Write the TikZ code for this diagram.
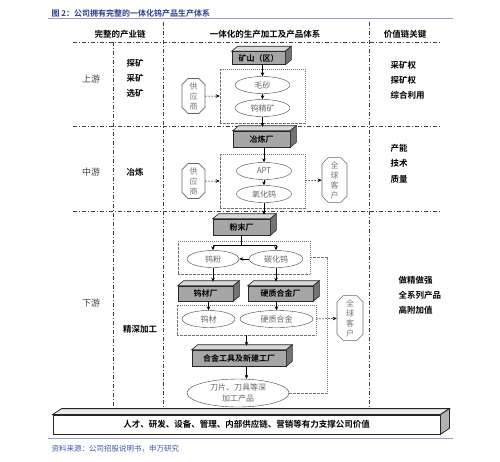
\documentclass[tikz,border=0pt]{standalone}
\usepackage{fontspec}
\setmainfont{Noto Sans CJK SC}[BoldFont={Noto Sans CJK SC Bold}]
\usetikzlibrary{arrows.meta,positioning,calc,shapes.geometric,shapes.misc}
\definecolor{titleblue}{HTML}{2A3F8F}
\definecolor{rulelav}{HTML}{9C9CC8}
\definecolor{srcblue}{HTML}{3557AE}

\begin{document}
\begin{tikzpicture}[x=1pt, y=-1pt,
    factory/.style={draw=black!85, fill=black!35, font=\fontsize{8}{9}\selectfont\bfseries, inner sep=0pt, line width=0.6pt},
    prod/.style={ellipse, draw=black!75, fill=white, text=black!60, font=\fontsize{8}{9}\selectfont, inner sep=0pt, minimum width=55pt, minimum height=17pt},
    partner/.style={chamfered rectangle, chamfered rectangle xsep=2.5pt, draw=black!60, text=black!55, font=\fontsize{8}{10}\selectfont, align=center, inner sep=0pt, minimum width=23pt, minimum height=35pt, line width=0.6pt},
    grp/.style={draw=black!55, dash pattern=on 1.5pt off 1pt on 0.5pt off 1pt, line width=0.5pt, inner sep=0pt},
    divider/.style={draw=black!75, line width=0.8pt, dash pattern=on 4pt off 2pt on 1pt off 2pt},
    arr/.style={-{Stealth[length=4pt,width=3.5pt]}, line width=0.5pt, black},
    darr/.style={arr, dash pattern=on 1.5pt off 1.5pt},
    head/.style={font=\fontsize{8.5}{10}\selectfont\bfseries},
    stage/.style={font=\fontsize{9}{10}\selectfont, text=black!75},
    key/.style={font=\fontsize{8.5}{10}\selectfont\bfseries, anchor=west},
]
\useasboundingbox (0,0) rectangle (500,461);

% Title
\node[anchor=west, text=titleblue, font=\fontsize{8}{9}\selectfont\bfseries] (title) at (48,13) {图 2：公司拥有完整的一体化钨产品生产体系};
\draw[rulelav, line width=1pt] (48,18.5) -- (453,18.5);

% Column heads
\node[head] (h1) at (120,34) {完整的产业链};
\node[head] (h2) at (265,34) {一体化的生产加工及产品体系};
\node[head] (h3) at (405,34) {价值链关键};

% Grid
\draw[divider] (73,42) -- (440,42);
\draw[divider] (73,126) -- (440,126);
\draw[divider] (73,211) -- (440,211);
\draw[divider] (113,42) -- (113,410);
\draw[divider] (163,22) -- (163,410);
\draw[divider] (369,22) -- (369,410);

% Chain stages
\node[stage] (up) at (91,79) {上游};
\node[stage] (mid) at (91,172) {中游};
\node[stage] (down) at (91,303) {下游};
\node[head] (c1) at (135,63) {探矿};
\node[head] (c2) at (135,78) {采矿};
\node[head] (c3) at (135,93) {选矿};
\node[head] (c4) at (135,172) {冶炼};
\node[head] (c5) at (140,329) {精深加工};

% Value keys
\node[key] (k1) at (387,65) {采矿权};
\node[key] (k2) at (387,80) {探矿权};
\node[key] (k3) at (387,95) {综合利用};
\node[key] (k4) at (387,148) {产能};
\node[key] (k5) at (387,163) {技术};
\node[key] (k6) at (387,179) {质量};
\node[key] (k7) at (395,280) {做精做强};
\node[key] (k8) at (395,295) {全系列产品};
\node[key] (k9) at (395,310) {高附加值};

% Upstream
\node[factory, minimum width=53pt, minimum height=13pt] (mine) at (258.5,58) {矿山（区）};
\node[grp, minimum width=85pt, minimum height=54pt] (g1) at (262.5,96) {};
\node[prod] (sand) at (262.5,85) {毛砂};
\node[prod] (conc) at (262.5,108) {钨精矿};
\node[partner] (sup1) at (193.5,96) {供\\应\\商};

% Midstream
\node[factory, minimum width=57pt, minimum height=16pt] (smelter) at (261.5,139) {冶炼厂};
\node[grp, minimum width=85pt, minimum height=54pt] (g2) at (262.5,181) {};
\node[prod] (apt) at (264,171) {APT};
\node[prod] (oxide) at (264,194) {氧化钨};
\node[partner] (sup2) at (193.5,181) {供\\应\\商};
\node[partner, minimum width=25pt, minimum height=44pt] (cust1) at (334.5,180) {全\\球\\客\\户};

% Downstream
\node[factory, minimum width=57pt, minimum height=16pt] (powder) at (241.5,227) {粉末厂};
\node[grp, minimum width=132pt, minimum height=33pt] (g3) at (244,257.5) {};
\node[prod, minimum width=52pt] (wpowder) at (213,259) {钨粉};
\node[prod, minimum width=54pt] (wc) at (276,259) {碳化钨};
\node[factory, minimum width=55pt, minimum height=15pt] (wmill) at (205.5,293.5) {钨材厂};
\node[factory, minimum width=65pt, minimum height=15pt] (cmill) at (280.5,293.5) {硬质合金厂};
\node[grp, minimum width=139pt, minimum height=30pt] (g4) at (246.5,320) {};
\node[prod, minimum width=53pt] (wmat) at (208.5,319) {钨材};
\node[prod, minimum width=73pt] (carb) at (276.5,319) {硬质合金};
\node[partner, minimum width=26pt, minimum height=44pt] (cust2) at (350,318) {全\\球\\客\\户};
\node[factory, minimum width=94pt, minimum height=16pt] (tool) at (239,358) {合金工具及新建工厂};
\node[prod, minimum width=102pt, minimum height=28pt, align=center, font=\fontsize{8}{11}\selectfont] (blade) at (238,393) {刀片、刀具等深\\加工产品};

% 3D faces of the plants
\foreach \b in {mine,smelter,powder,wmill,cmill,tool} {
  \draw[black!85, line width=0.6pt, fill=black!15] (\b.north west) -- ++(6,-5) -- ($(\b.north east)+(6,-5)$) -- (\b.north east) -- cycle;
  \draw[black!85, line width=0.6pt, fill=black!55] (\b.north east) -- ++(6,-5) -- ($(\b.south east)+(6,-5)$) -- (\b.south east) -- cycle;
}

% Arrows
\draw[arr] (sand.north |- mine.south) -- (sand.north);
\draw[arr] (sand) -- (conc);
\draw[arr] (conc.south) -- ($(conc.south |- smelter.north)+(0,-4)$);
\draw[arr] (apt.north |- smelter.south) -- (apt.north);
\draw[arr] (apt) -- (oxide);
\draw[arr] (oxide.south) -- ($(oxide.south |- powder.north)+(0,-4)$);
\coordinate (split) at ($(powder.south)+(0,10)$);
\draw[line width=0.5pt] (powder.south) -- (split);
\draw[arr] (split) -| (wpowder.north);
\draw[arr] (split) -| (wc.north);
\draw[arr] (wc) -- (wpowder);
\draw[arr] (wpowder.south) -- ($(wpowder.south |- wmill.north)+(0,-4)$);
\draw[arr] (wc.south) -- ($(wc.south |- cmill.north)+(0,-4)$);
\draw[arr] (wmat.north |- wmill.south) -- (wmat.north);
\draw[arr] (carb.north |- cmill.south) -- (carb.north);
\draw[arr] (g4.south) -- ($(g4.south |- tool.north)+(0,-4)$);
\draw[arr] (g4.south |- tool.south) -- (g4.south |- blade.north);
\draw[darr] (sup1) -- (g1);
\draw[darr] (sup2) -- (g2);
\draw[darr] (g2) -- (cust1);
\draw[darr] (g4.east |- carb) -- (cust2);
\draw[grp] (g3.east) -- ++(17,0) |- (blade.east);

% Support base
\node[draw=black!85, fill=white, line width=0.8pt, minimum width=387pt, minimum height=19pt, inner sep=0pt, font=\fontsize{8.5}{10}\selectfont\bfseries] (base) at (246.5,424.5) {人才、研发、设备、管理、内部供应链、营销等有力支撑公司价值};
\draw[black!85, line width=0.8pt, fill=black!8] (base.north west) -- ++(9,-6) -- ($(base.north east)+(9,-6)$) -- (base.north east) -- cycle;
\draw[black!85, line width=0.8pt, fill=black!30] (base.north east) -- ++(9,-6) -- ($(base.south east)+(9,-6)$) -- (base.south east) -- cycle;

% Source
\draw[rulelav, line width=1pt] (48,438) -- (453,438);
\node[anchor=west, text=srcblue, font=\fontsize{7.5}{9}\selectfont] (src) at (48,449) {资料来源：公司招股说明书，申万研究};
\end{tikzpicture}
\end{document}
